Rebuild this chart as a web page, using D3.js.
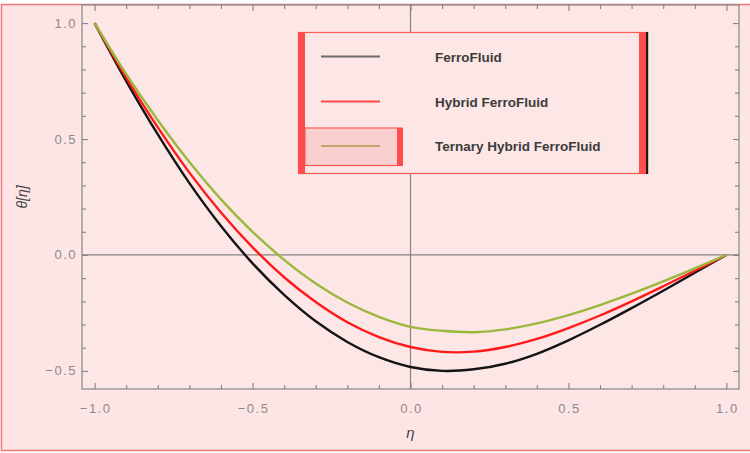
<!DOCTYPE html>
<html>
<head>
<meta charset="utf-8">
<script src="https://cdn.jsdelivr.net/npm/d3@7"></script>
<style>
  html, body { margin: 0; padding: 0; background: #ffffff; }
  svg { display: block; }
  text { font-family: "Liberation Sans", Arial, sans-serif; }
</style>
</head>
<body>
<svg id="chart" width="750" height="453"></svg>
<script>
// Temperature profile θ(η) across the channel for three fluids
const eta = [-1.0, -0.9, -0.8, -0.7, -0.6, -0.5, -0.4, -0.3, -0.2, -0.1, 0.0,
              0.1, 0.2, 0.3, 0.4, 0.5, 0.6, 0.7, 0.8, 0.9, 1.0];

const ferroFluid = [1.00, 0.75, 0.52, 0.31, 0.125, -0.036, -0.172, -0.286, -0.375, -0.441, -0.483,
                    -0.500, -0.493, -0.469, -0.426, -0.368, -0.301, -0.229, -0.154, -0.077, 0.00];
const hybridFerroFluid = [1.00, 0.765, 0.55, 0.355, 0.183, 0.033, -0.096, -0.203, -0.290, -0.354, -0.397,
                          -0.418, -0.417, -0.397, -0.362, -0.315, -0.261, -0.200, -0.135, -0.068, 0.00];
const ternaryHybridFerroFluid = [1.00, 0.78, 0.581, 0.401, 0.240, 0.100, -0.021, -0.123, -0.205, -0.267, -0.310,
                                 -0.327, -0.333, -0.321, -0.295, -0.259, -0.216, -0.167, -0.114, -0.058, 0.00];

const seriesNames = ["FerroFluid", "Hybrid FerroFluid", "Ternary Hybrid FerroFluid"];
const seriesColors = ["#141414", "#ff1a1a", "#9ab83c"];
const legendSwatchColors = ["#6a6a6a", "#ff4a4a", "#c6a46e"];

const xTickLabels = [-1.0, -0.5, 0.0, 0.5, 1.0];
const yTickLabels = [-0.5, 0.0, 0.5, 1.0];

const svg = d3.select("#chart");
const W = 750;

// page background and outer border
svg.append("rect").attr("x", 1.5).attr("y", 4.5).attr("width", W + 5).attr("height", 446)
  .attr("fill", "#fde5e5").attr("stroke", "#f07a7a").attr("stroke-width", 1.5);

const frame = { left: 82, right: 739, top: 5, bottom: 389 };
const x = d3.scaleLinear().domain([-1.04, 1.04]).range([frame.left, frame.right]);
const y = d3.scaleLinear().domain([-0.578, 1.078]).range([frame.bottom, frame.top]);

const axisColor = "#858585";
const labelColor = "#8a8a8a";

// frame
svg.append("rect")
  .attr("x", frame.left).attr("y", frame.top)
  .attr("width", frame.right - frame.left).attr("height", frame.bottom - frame.top)
  .attr("fill", "#fde6e6").attr("stroke", axisColor).attr("stroke-width", 1.2);

// origin axes
svg.append("line").attr("x1", frame.left).attr("x2", frame.right)
  .attr("y1", y(0)).attr("y2", y(0)).attr("stroke", axisColor).attr("stroke-width", 1.2);
svg.append("line").attr("x1", x(0)).attr("x2", x(0))
  .attr("y1", frame.top).attr("y2", frame.bottom).attr("stroke", axisColor).attr("stroke-width", 1.2);

// frame ticks (major every 0.5, minor every 0.1), pointing inward
const xTicks = d3.range(-10, 11).map(i => i / 10);
const yTicks = d3.range(-5, 11).map(i => i / 10);
const isMajor = v => Math.abs(v * 2 - Math.round(v * 2)) < 1e-9;

const bottomAxis = d3.axisTop(x).tickValues(xTicks).tickFormat("").tickSizeOuter(0);
const topAxis = d3.axisBottom(x).tickValues(xTicks).tickFormat("").tickSizeOuter(0);
const leftAxis = d3.axisRight(y).tickValues(yTicks).tickFormat("").tickSizeOuter(0);
const rightAxis = d3.axisLeft(y).tickValues(yTicks).tickFormat("").tickSizeOuter(0);

function styleTicks(g, horizontal, sign) {
  g.select(".domain").remove();
  g.selectAll(".tick line")
    .attr("stroke", axisColor).attr("stroke-width", 1.1)
    .each(function(d) {
      const len = isMajor(d) ? 6 : 4;
      if (horizontal) d3.select(this).attr("y2", sign * len);
      else d3.select(this).attr("x2", sign * len);
    });
}
svg.append("g").attr("transform", `translate(0,${frame.bottom})`).call(bottomAxis).call(g => styleTicks(g, true, -1));
svg.append("g").attr("transform", `translate(0,${frame.top})`).call(topAxis).call(g => styleTicks(g, true, 1));
svg.append("g").attr("transform", `translate(${frame.left},0)`).call(leftAxis).call(g => styleTicks(g, false, 1));
svg.append("g").attr("transform", `translate(${frame.right},0)`).call(rightAxis).call(g => styleTicks(g, false, -1));

// tick labels
const fmt = v => (v < 0 ? "\u2212" : "") + Math.abs(v).toFixed(1);
svg.append("g").selectAll("text").data(xTickLabels).join("text")
  .attr("x", d => x(d) + 1).attr("y", 413)
  .attr("text-anchor", "middle").attr("font-size", 13).attr("letter-spacing", 1.5)
  .attr("fill", labelColor).text(fmt);
svg.append("g").selectAll("text").data(yTickLabels).join("text")
  .attr("x", 77).attr("y", d => y(d) + 4.5)
  .attr("text-anchor", "end").attr("font-size", 13).attr("letter-spacing", 1.5)
  .attr("fill", labelColor).text(fmt);

// axis titles
svg.append("text").attr("x", x(0)).attr("y", 438)
  .attr("text-anchor", "middle").attr("font-size", 15).attr("font-style", "italic")
  .attr("fill", "#444").text("η");
svg.append("text").attr("transform", "translate(27,197) rotate(-90)")
  .attr("text-anchor", "middle").attr("font-size", 14).attr("font-style", "italic")
  .attr("fill", "#444").text("θ[η]");

// curves
const allSeries = [ferroFluid, hybridFerroFluid, ternaryHybridFerroFluid];
const line = d3.line().x(d => x(d[0])).y(d => y(d[1])).curve(d3.curveCatmullRom.alpha(0.5));
allSeries.forEach((vals, i) => {
  svg.append("path")
    .datum(eta.map((e, j) => [e, vals[j]]))
    .attr("d", line)
    .attr("fill", "none")
    .attr("stroke", seriesColors[i])
    .attr("stroke-width", 2.4)
    .attr("stroke-linejoin", "round");
});

// legend
const lg = svg.append("g");
const L = { x: 298, y: 32, w: 350, h: 141 };
lg.append("rect").attr("x", L.x + 0.5).attr("y", L.y + 0.5).attr("width", L.w - 2).attr("height", L.h)
  .attr("fill", "#fde6e6").attr("stroke", "#ff5a5a").attr("stroke-width", 1.2);
// highlighted row
lg.append("rect").attr("x", 305).attr("y", 128).attr("width", 97).attr("height", 37.5)
  .attr("fill", "#f9cfcf").attr("stroke", "#ff5a5a").attr("stroke-width", 1.2);
lg.append("rect").attr("x", 397).attr("y", 128).attr("width", 6).attr("height", 38).attr("fill", "#ff4d4d");
// side bars
lg.append("rect").attr("x", L.x).attr("y", L.y).attr("width", 7).attr("height", L.h + 1).attr("fill", "#ff4d4d");
lg.append("rect").attr("x", 639).attr("y", L.y).attr("width", 7).attr("height", L.h + 1).attr("fill", "#ff4d4d");
lg.append("rect").attr("x", 646).attr("y", L.y).attr("width", 2.2).attr("height", L.h + 1).attr("fill", "#1a1a1a");

const rowsY = [56.5, 101.5, 146];
seriesNames.forEach((name, i) => {
  lg.append("line").attr("x1", 321).attr("x2", 380).attr("y1", rowsY[i]).attr("y2", rowsY[i])
    .attr("stroke", legendSwatchColors[i]).attr("stroke-width", 2);
  lg.append("text").attr("x", 435).attr("y", rowsY[i] + 5)
    .attr("font-size", 13.5).attr("font-weight", "bold").attr("fill", "#3c3c3c")
    .text(name);
});
</script>
</body>
</html>
